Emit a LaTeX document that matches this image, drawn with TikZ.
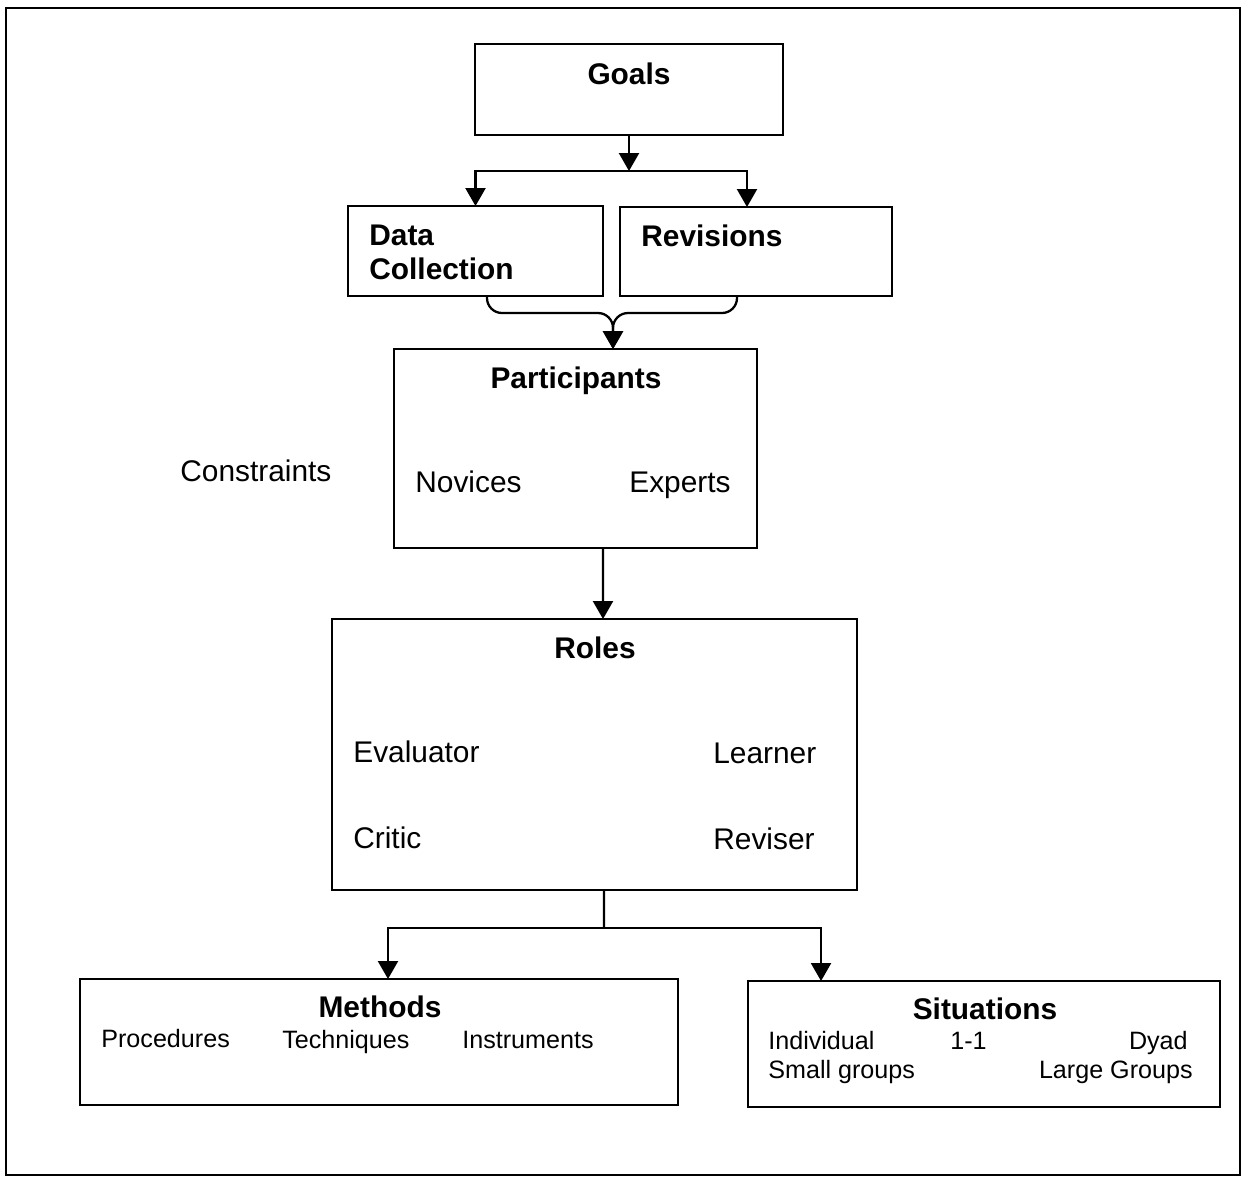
\documentclass[tikz,border=0pt]{standalone}
\usepackage{fontspec}
\setmainfont{Liberation Sans}
\usetikzlibrary{arrows.meta,positioning,calc}

\begin{document}
\begin{tikzpicture}[
    x=0.02cm,y=-0.02cm,
    box/.style={draw,line width=1.2pt,inner sep=0pt,outer sep=0pt},
    head/.style={inner sep=0pt,font=\fontsize{17}{20}\selectfont\bfseries},
    item/.style={inner sep=0pt,font=\fontsize{17}{20}\selectfont},
    small/.style={inner sep=0pt,font=\fontsize{14.3}{17}\selectfont},
    ln/.style={line width=1.3pt},
    arr/.style={ln,-{Triangle[length=0.36cm,width=0.40cm]}}
  ]
  \useasboundingbox (0,0) rectangle (1245,1178);

  %% ── Outer frame ───────────────────────────────────────────────────────────
  \draw[line width=1.5pt] (6,8) rectangle (1240,1175);

  %% ── Top rows ──────────────────────────────────────────────────────────────
  \node[box,minimum width=6.16cm,minimum height=1.82cm] (goals) at (629,89.5) {};
  \node[head,anchor=base] (goalst) at (629,84) {Goals};

  \node[box,minimum width=5.10cm,minimum height=1.80cm] (data) at (475.5,251) {};
  \node[head,anchor=base west] (datat) at (369,245) {Data};
  \node[head,anchor=base west] (collt) at (369,279) {Collection};

  \node[box,minimum width=5.44cm,minimum height=1.78cm] (rev) at (756,251.5) {};
  \node[head,anchor=base west] (revt) at (641,246) {Revisions};

  \coordinate (split1) at (629,171);
  \draw[arr] (goals) -- (split1);
  \draw[arr] (split1) -| (data.north);
  \draw[arr] (split1) -| ([xshift=-0.18cm]rev.north);

  %% ── Participants ──────────────────────────────────────────────────────────
  \node[box,minimum width=7.26cm,minimum height=3.98cm] (part) at (575.5,448.5) {};
  \node[head,anchor=base] (partt) at (576,388) {Participants};
  \node[item,anchor=base west] (nov) at (415,492) {Novices};
  \node[item,anchor=base west] (exp) at (629,492) {Experts};
  \node[item,anchor=base west] (cons) at (180,481) {Constraints};

  \coordinate (merge) at (613,313);
  \draw[arr,rounded corners=0.3cm] ([xshift=0.23cm]data.south) |- (merge)
      -- ([xshift=0.75cm]part.north);
  \draw[arr,rounded corners=0.3cm] ([xshift=-0.38cm]rev.south) |- (merge)
      -- ([xshift=0.75cm]part.north);

  %% ── Roles ─────────────────────────────────────────────────────────────────
  \node[box,minimum width=10.5cm,minimum height=5.42cm] (roles) at (594.5,754.5) {};
  \node[head,anchor=base] (rolest) at (595,658) {Roles};
  \node[item,anchor=base west] (eval) at (353,762) {Evaluator};
  \node[item,anchor=base west] (learn) at (713,763) {Learner};
  \node[item,anchor=base west] (crit) at (353,848) {Critic};
  \node[item,anchor=base west] (revs) at (713,849) {Reviser};

  \draw[arr] ([xshift=0.55cm]part.south) -- ([xshift=0.17cm]roles.north);

  %% ── Methods / Situations ──────────────────────────────────────────────────
  \node[box,minimum width=11.96cm,minimum height=2.52cm] (meth) at (379,1042) {};
  \node[head,anchor=base] (metht) at (380,1017) {Methods};
  \node[small,anchor=base west] (proc) at (101,1047) {Procedures};
  \node[small,anchor=base west] (tech) at (282,1048) {Techniques};
  \node[small,anchor=base west] (inst) at (462,1048) {Instruments};

  \node[box,minimum width=9.44cm,minimum height=2.52cm] (sit) at (984,1044) {};
  \node[head,anchor=base] (sitt) at (985,1019) {Situations};
  \node[small,anchor=base west] (indiv) at (768,1049) {Individual};
  \node[small,anchor=base west] (one) at (950,1049) {1-1};
  \node[small,anchor=base east] (dyad) at (1188,1049) {Dyad};
  \node[small,anchor=base west] (smallg) at (768,1078) {Small groups};
  \node[small,anchor=base east] (largeg) at (1193,1078) {Large Groups};

  \coordinate (split2) at (604,928);
  \draw[ln] ([xshift=0.19cm]roles.south) -- (split2);
  \draw[arr] (split2) -| ([xshift=0.18cm]meth.north);
  \draw[arr] (split2) -| ([xshift=-3.26cm]sit.north);

\end{tikzpicture}
\end{document}
